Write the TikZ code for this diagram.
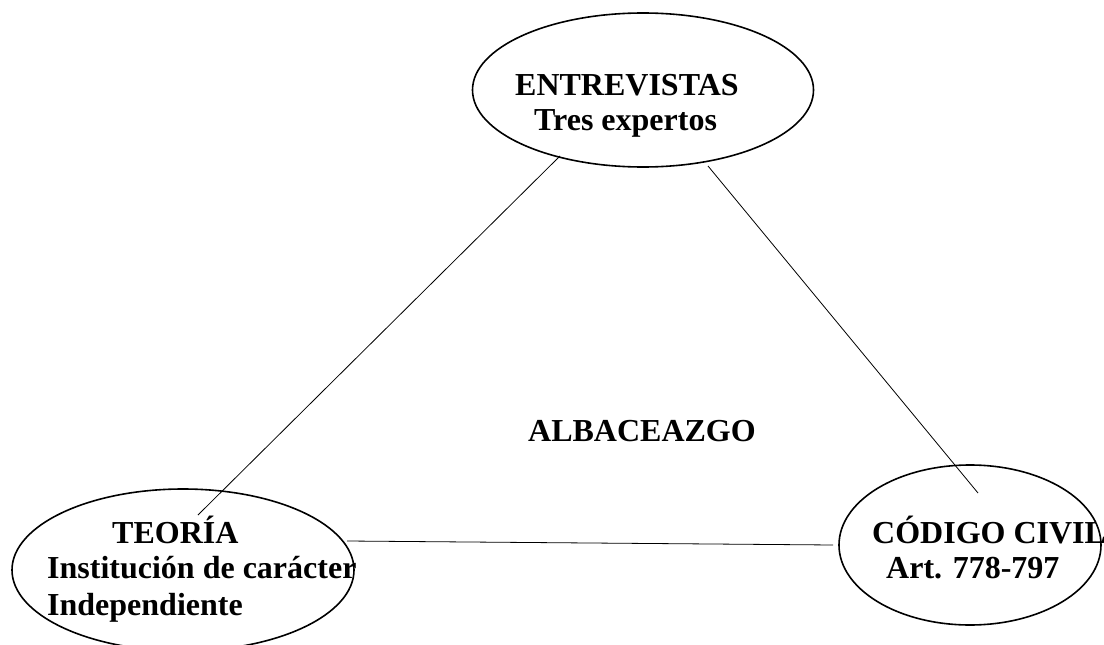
\documentclass[tikz,border=0pt]{standalone}
\usepackage{fontspec}
\setmainfont{Liberation Serif}
\usetikzlibrary{shapes.geometric}
\begin{document}
\begin{tikzpicture}[x=1pt,y=-1pt,
  oval/.style={draw,ellipse,line width=1.6pt,inner sep=0pt},
  lbl/.style={inner sep=0pt,anchor=base west,font=\fontsize{32}{35}\selectfont\bfseries},
  link/.style={line width=0.8pt}]
\useasboundingbox (0,0) rectangle (1104,645);
% ellipses
\node[oval,minimum width=341pt,minimum height=154pt] (ent) at (643,90) {};
\node[oval,minimum width=342pt,minimum height=162pt] (teo) at (183,570) {};
\node[oval,minimum width=262pt,minimum height=160pt] (cod) at (970,545) {};
% texts
\node[lbl] (entA) at (515,95) {ENTREVISTAS};
\node[lbl] (entB) at (534,130) {Tres expertos};
\node[lbl] (teoA) at (112,543) {TEORÍA};
\node[lbl] (teoB) at (47,578) {Institución de carácter};
\node[lbl] (teoC) at (47,615) {Independiente};
\node[lbl] (codA) at (872,543) {CÓDIGO CIVIL};
\node[lbl] (codB) at (886,578) {Art. 778-797};
\node[lbl] (alb) at (528,441) {ALBACEAZGO};
% connector ends
\coordinate (e1) at (560,156);
\coordinate (t1) at (198,515);
\coordinate (e2) at (708,166);
\coordinate (c1) at (978,493);
\coordinate (t2) at (347,541);
\coordinate (c2) at (833,545);
\draw[link] (e1) -- (t1);
\draw[link] (e2) -- (c1);
\draw[link] (t2) -- (c2);
\end{tikzpicture}
\end{document}
